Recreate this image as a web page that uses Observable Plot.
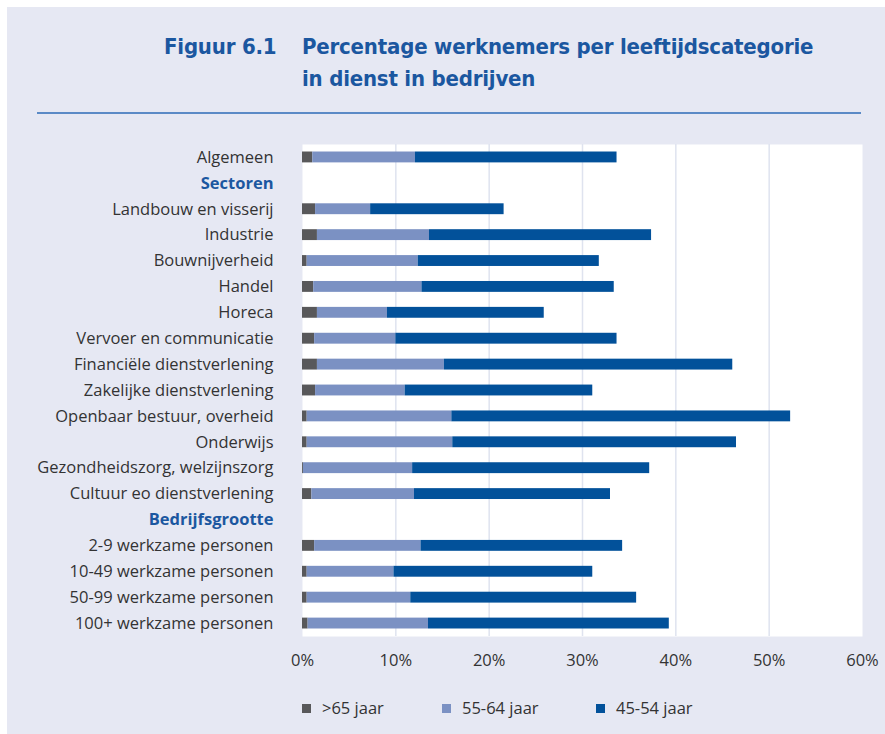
<!DOCTYPE html>
<html>
<head>
<meta charset="utf-8">
<script src="https://cdn.jsdelivr.net/npm/d3@7"></script>
<script src="https://cdn.jsdelivr.net/npm/@observablehq/plot@0.6"></script>
<style>
  html, body { margin: 0; padding: 0; background: #ffffff; }
  #page { position: relative; width: 885px; height: 734px; overflow: hidden; }
  #panel { position: absolute; left: 7px; top: 7px; right: 0; bottom: 0; background: #e6e8f3; }
  .title { position: absolute; font-family: "Liberation Sans Narrow", "DejaVu Sans", sans-serif; font-stretch: condensed; font-weight: bold; font-size: 22px; letter-spacing: -0.2px; color: #1b57a0; line-height: 32px; white-space: nowrap; }
  #rule { position: absolute; left: 37px; width: 824px; top: 112px; height: 2px; background: #5b8ac6; }
  #chart { position: absolute; left: 0; top: 0; }
  .legend { position: absolute; top: 696px; font-family: "Open Sans", sans-serif; font-size: 16.5px; color: #333333; white-space: nowrap; }
  .legend .sw { position: absolute; width: 9px; height: 9px; top: 8px; }
  .legend .lb { position: absolute; left: 20px; top: 0px; }
</style>
</head>
<body>
<div id="page">
  <div id="panel"></div>
  <div class="title" style="left:164px; top:31px;">Figuur 6.1</div>
  <div class="title" style="left:302px; top:31px;">Percentage werknemers per leeftijdscategorie<br>in dienst in bedrijven</div>
  <div id="rule"></div>
  <div id="chart"></div>
  <div id="legend"></div>
</div>
<script>
const categories = [
  "Algemeen",
  "Sectoren",
  "Landbouw en visserij",
  "Industrie",
  "Bouwnijverheid",
  "Handel",
  "Horeca",
  "Vervoer en communicatie",
  "Financiële dienstverlening",
  "Zakelijke dienstverlening",
  "Openbaar bestuur, overheid",
  "Onderwijs",
  "Gezondheidszorg, welzijnszorg",
  "Cultuur eo dienstverlening",
  "Bedrijfsgrootte",
  "2-9 werkzame personen",
  "10-49 werkzame personen",
  "50-99 werkzame personen",
  "100+ werkzame personen"
];
const headers = ["Sectoren", "Bedrijfsgrootte"];
const seriesNames = [">65 jaar", "55-64 jaar", "45-54 jaar"];
const seriesColors = ["#58585a", "#7b91c3", "#02519a"];
const over65   = [1.1, null, 1.4, 1.6, 0.5, 1.2, 1.6, 1.3, 1.6, 1.4, 0.5, 0.5, 0.1, 1.0, null, 1.3, 0.5, 0.5, 0.6];
const age55_64 = [11.0, null, 5.9, 12.0, 11.9, 11.6, 7.5, 8.7, 13.6, 9.6, 15.5, 15.6, 11.7, 11.0, null, 11.4, 9.3, 11.1, 12.9];
const age45_54 = [21.6, null, 14.3, 23.8, 19.4, 20.6, 16.8, 23.7, 30.9, 20.1, 36.3, 30.4, 25.4, 21.0, null, 21.6, 21.3, 24.2, 25.8];
const xTicks = [0, 10, 20, 30, 40, 50, 60];
const gridTicks = [10, 20, 30, 40, 50];

const seriesValues = [over65, age55_64, age45_54];
const data = [];
categories.forEach((c, i) => {
  seriesNames.forEach((s, j) => {
    const v = seriesValues[j][i];
    if (v != null) data.push({cat: c, series: s, value: v});
  });
});

const font = "'Open Sans', sans-serif";
const fs = "16.5px";
const chart = Plot.plot({
  width: 885,
  height: 690,
  marginLeft: 302,
  marginRight: 23,
  marginTop: 144,
  marginBottom: 54,
  style: {background: "transparent", fontFamily: font, fontSize: fs, color: "#333333"},
  x: {domain: [0, 60], ticks: xTicks, tickFormat: d => d + "%", label: null},
  y: {domain: categories, paddingInner: 0.58, paddingOuter: 0.29, round: false, label: null, axis: null},
  color: {domain: seriesNames, range: seriesColors},
  marks: [
    Plot.frame({fill: "white", stroke: null}),
    Plot.ruleX(gridTicks, {stroke: "#dfe3ef", strokeWidth: 1.5}),
    Plot.barX(data, Plot.stackX({y: "cat", x: "value", fill: "series", order: seriesNames})),
    Plot.axisX({ticks: xTicks, tickFormat: d => d + "%", tickSize: 0, tickPadding: 18, label: null, fontSize: fs, fill: "#333333"}),
    Plot.text(categories.filter(d => !headers.includes(d)), {
      y: d => d,
      frameAnchor: "left",
      dx: -29,
      textAnchor: "end",
      text: d => d,
      fontSize: fs,
      fill: "#333333"
    }),
    Plot.text(headers, {
      y: d => d,
      frameAnchor: "left",
      dx: -29,
      textAnchor: "end",
      text: d => d,
      fontSize: fs,
      fontWeight: "bold",
      fill: "#1b57a0"
    })
  ]
});
document.getElementById("chart").appendChild(chart);

const legendPos = [302, 442, 596];
const legend = document.getElementById("legend");
seriesNames.forEach((s, i) => {
  const item = document.createElement("div");
  item.className = "legend";
  item.style.left = legendPos[i] + "px";
  item.innerHTML = `<div class="sw" style="background:${seriesColors[i]}"></div><div class="lb">${s.replace(">", "&gt;")}</div>`;
  legend.appendChild(item);
});
</script>
</body>
</html>
